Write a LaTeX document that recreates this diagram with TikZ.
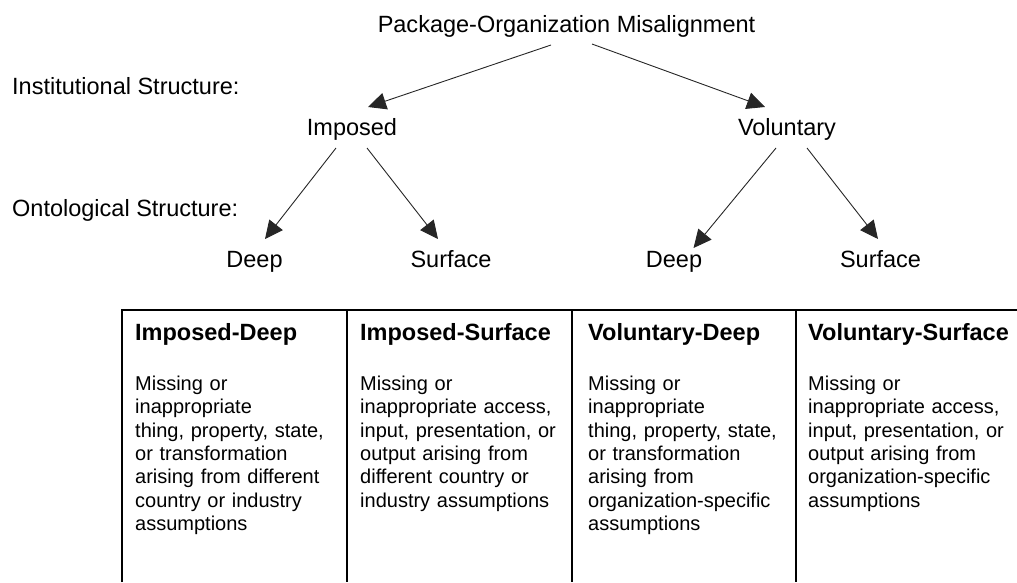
\documentclass[tikz,border=0pt]{standalone}
\usepackage{fontspec}
\setmainfont{Liberation Sans}
\usetikzlibrary{arrows.meta,calc}
\begin{document}
\begin{tikzpicture}[x=1pt,y=-1pt,
  lbl/.style={font=\fontsize{23.5}{28}\selectfont, inner sep=0pt, anchor=base},
  side/.style={lbl, anchor=base west},
  arr/.style={draw=black!85, line width=0.9pt, -{Triangle[length=18pt,width=17pt]}},
  gridline/.style={line width=1.2pt},
  head/.style={font=\fontsize{23.5}{28}\selectfont\bfseries, inner sep=0pt, anchor=base west},
  body/.style={font=\fontsize{20}{23.3}\selectfont, inner sep=0pt, anchor=base west, text width=215pt, align=left}]
\useasboundingbox (0,0) rectangle (1017,582);

% tree labels
\node[lbl] (title) at (566.5,32) {Package-Organization Misalignment};
\node[side] (inst) at (12,94) {Institutional Structure:};
\node[side] (onto) at (12,216) {Ontological Structure:};
\node[lbl] (imp) at (352,135) {Imposed};
\node[lbl] (vol) at (787,135) {Voluntary};
\node[lbl] (impdeep) at (254.5,267) {Deep};
\node[lbl] (impsurf) at (451,267) {Surface};
\node[lbl] (voldeep) at (674,267) {Deep};
\node[lbl] (volsurf) at (880.5,267) {Surface};

% tree connectors
\draw[arr] ($(title.base)+(-15.5,13)$) -- ($(imp.base)+(16,-28)$);
\draw[arr] ($(title.base)+(25.5,12)$) -- ($(vol.base)+(-22,-28)$);
\draw[arr] ($(imp.base)+(-16,13)$) -- ($(impdeep.base)+(10.5,-28)$);
\draw[arr] ($(imp.base)+(15,13)$) -- ($(impsurf.base)+(-13,-28)$);
\draw[arr] ($(vol.base)+(-11,13)$) -- ($(voldeep.base)+(19.5,-19)$);
\draw[arr] ($(vol.base)+(20,13)$) -- ($(volsurf.base)+(-2.5,-28)$);

% table grid
\draw[gridline] (122,582) -- (122,310) -- (1017,310);
\draw[gridline] (347,310) -- (347,582);
\draw[gridline] (572,310) -- (572,582);
\draw[gridline] (796,310) -- (796,582);

% table headers
\node[head] (h1) at (135,340) {Imposed-Deep};
\node[head] (h2) at (360,340) {Imposed-Surface};
\node[head] (h3) at (588,340) {Voluntary-Deep};
\node[head] (h4) at (808,340) {Voluntary-Surface};

% table cell descriptions
\node[body] (b1) at (135,390.5) {Missing or\\ inappropriate\\ thing, property, state,\\ or transformation\\ arising from different\\ country or industry\\ assumptions};
\node[body] (b2) at (360,390.5) {Missing or\\ inappropriate access,\\ input, presentation, or\\ output arising from\\ different country or\\ industry assumptions};
\node[body] (b3) at (588,390.5) {Missing or\\ inappropriate\\ thing, property, state,\\ or transformation\\ arising from\\ organization-specific\\ assumptions};
\node[body] (b4) at (808,390.5) {Missing or\\ inappropriate access,\\ input, presentation, or\\ output arising from\\ organization-specific\\ assumptions};
\end{tikzpicture}
\end{document}
